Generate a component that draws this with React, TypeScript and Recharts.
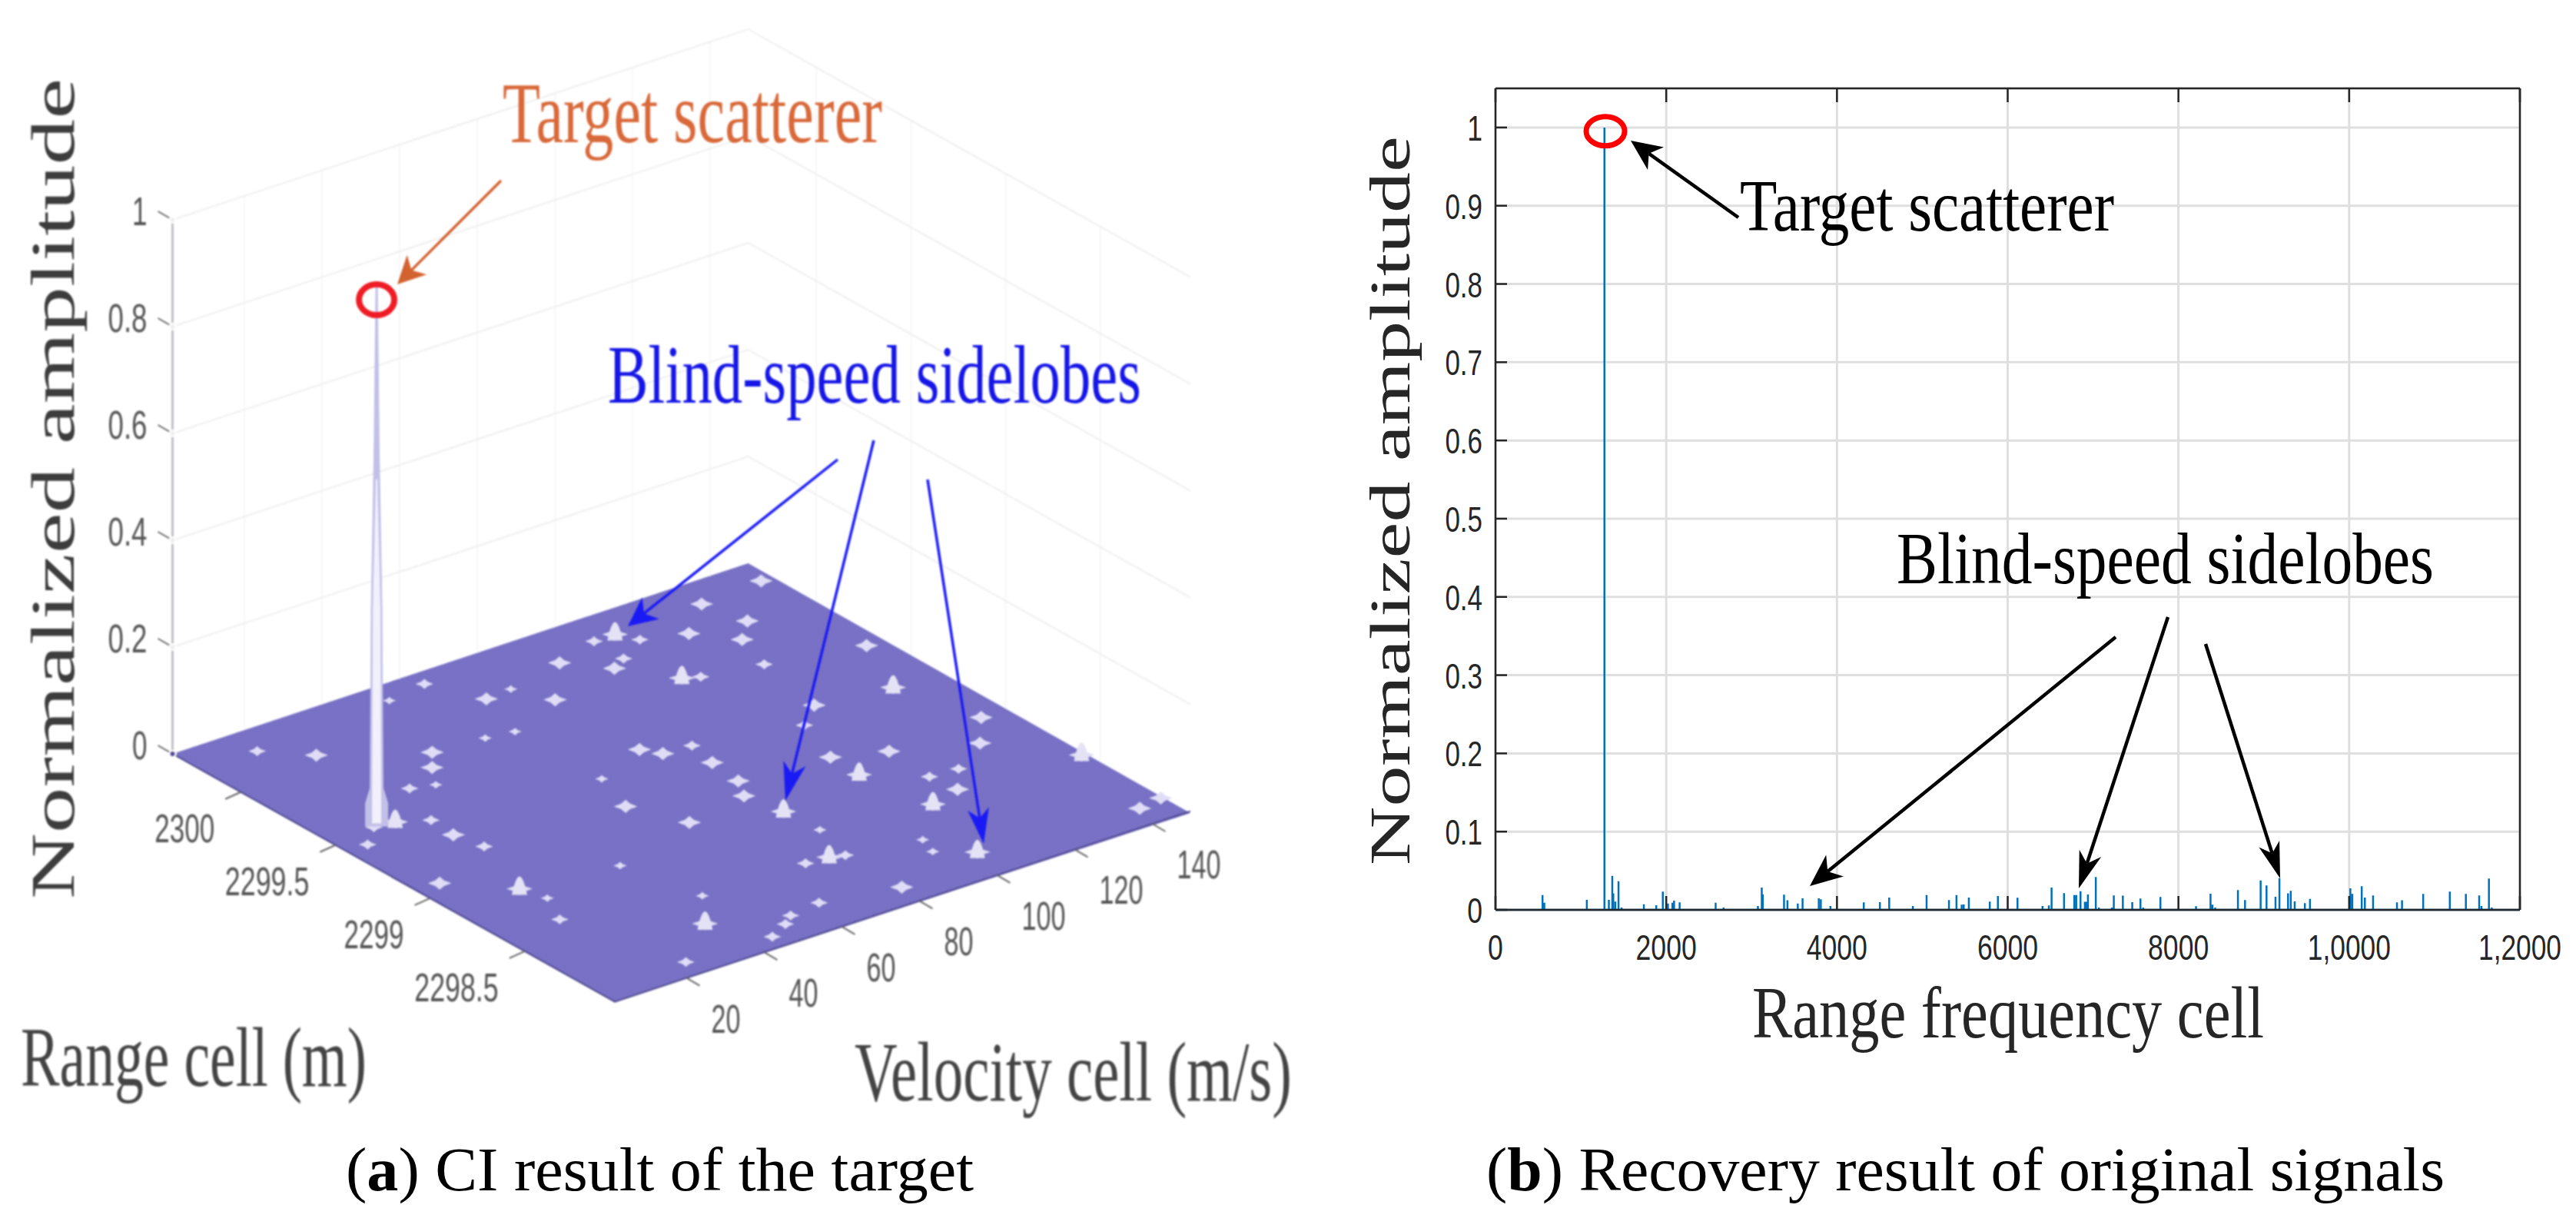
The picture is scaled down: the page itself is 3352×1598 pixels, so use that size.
import React from "react";
import { Area, CartesianGrid, ComposedChart, Line, Scatter, XAxis, YAxis } from "recharts";

// ---------- panel (a): surface ----------
const zTicks = [0, 0.2, 0.4, 0.6, 0.8, 1];
const velocityTicks = [20, 40, 60, 80, 100, 120, 140];
const rangeTicks = [2300, 2299.5, 2299, 2298.5];

const targetVelocity = 13.6;
const targetRange = 2299.53;
const targetAmp = 1.01;

const bumpVelocity = [
  146.8, 130.5, 133, 119.9, 126.8, 107.7, 102.3, 110.2, 102.1, 97.8, 90.5, 123.2, 105.9, 109.3, 68.2, 79.1, 75, 63.4,
  56.7, 119.5, 112.1, 78.4, 81, 88, 86.4, 63.8, 85.3, 81.9, 107.1, 106.7, 83.8, 59.7, 65.4, 25.2, 41.7, 78, 81.2, 72.4,
  18.7, 20.5, 16.4, 38.7, 63.2, 54.9, 51.6, 45.8, 46.3, 145.2, 137.4, 143, 135.4, 118.3, 124.5, 117.5, 118.4, 110.1,
  103.5, 81.1, 142.4, 148.8, 98.2, 96.4, 84.4, 24.4, 16, 44, 39.6, 35.2, 29.9, 24.2, 17.9, 12.9, 6.9, 23.6, 7.4, 62.5,
  52, 24.5, 148.4,
];
const bumpRange = [
  2300.23, 2300.21, 2300.02, 2300.06, 2299.92, 2300.2, 2300.2, 2300.12, 2300.04, 2300, 2300.14, 2299.73, 2299.81,
  2299.78, 2300.07, 2299.93, 2300.08, 2299.82, 2299.84, 2299.39, 2299.29, 2299.47, 2299.4, 2299.39, 2299.25, 2299.37,
  2299.09, 2298.99, 2299.05, 2298.89, 2298.82, 2299.16, 2298.94, 2299.2, 2298.82, 2298.46, 2298.44, 2298.47, 2298.88,
  2298.77, 2298.62, 2298.31, 2298.21, 2298.19, 2298.15, 2298.1, 2298.48, 2299.64, 2299.34, 2298.99, 2298.84, 2298.97,
  2298.73, 2298.74, 2298.61, 2298.57, 2298.2, 2298.14, 2298.14, 2298.16, 2298.38, 2298.29, 2298.64, 2300.07, 2300.21,
  2299.86, 2299.77, 2299.66, 2299.69, 2299.46, 2299.52, 2299.53, 2299.44, 2299.33, 2299.07, 2300.28, 2300.25, 2298.12,
  2298.57,
];
const bumpAmp = [
  0.022, 0.022, 0.022, 0.022, 0.022, 0.04, 0.014, 0.014, 0.014, 0.022, 0.022, 0.014, 0.04, 0.014, 0.022, 0.022, 0.008,
  0.008, 0.008, 0.022, 0.014, 0.022, 0.022, 0.014, 0.022, 0.008, 0.022, 0.022, 0.022, 0.04, 0.04, 0.022, 0.022, 0.014,
  0.008, 0.04, 0.014, 0.014, 0.04, 0.008, 0.014, 0.04, 0.014, 0.014, 0.014, 0.014, 0.008, 0.022, 0.04, 0.022, 0.022,
  0.022, 0.014, 0.014, 0.022, 0.04, 0.04, 0.022, 0.022, 0.022, 0.008, 0.008, 0.008, 0.022, 0.014, 0.022, 0.022, 0.008,
  0.014, 0.014, 0.04, 0.014, 0.014, 0.022, 0.022, 0.014, 0.008, 0.014, 0.04,
];

// ---------- panel (b): stems ----------
const cellTicks = [0, 2000, 4000, 6000, 8000, 10000, 12000];
const cellTickLabels = ["0", "2000", "4000", "6000", "8000", "1,0000", "1,2000"];
const ampTicks = [0, 0.1, 0.2, 0.3, 0.4, 0.5, 0.6, 0.7, 0.8, 0.9, 1];

const stemCells = [
  551, 572, 1070, 1276, 1328, 1368, 1380, 1404, 1441, 1477, 1738, 1883, 1960, 2020, 2072, 2092, 2157, 2579, 2672, 3074,
  3119, 3131, 3380, 3420, 3541, 3597, 3787, 3811, 3923, 4314, 4503, 4612, 4889, 5050, 5312, 5400, 5461, 5485, 5545,
  5790, 5885, 6115, 6408, 6482, 6514, 6660, 6780, 6803, 6853, 6904, 6922, 6940, 7032, 7069, 7220, 7243, 7349, 7459,
  7555, 7587, 7789, 8206, 8376, 8399, 8431, 8697, 8780, 8963, 9032, 9137, 9183, 9284, 9316, 9362, 9481, 9541, 10014,
  10037, 10147, 10184, 10280, 10560, 10619, 10867, 11179, 11367, 11523, 11550, 11637, 11670,
];
const stemAmps = [
  0.0188, 0.009, 0.0128, 1, 0.0128, 0.0434, 0.021, 0.0105, 0.0365, 0.003, 0.007, 0.006, 0.0234, 0.008, 0.009, 0.0118,
  0.0095, 0.009, 0.003, 0.005, 0.0286, 0.0197, 0.0194, 0.0122, 0.008, 0.0148, 0.0148, 0.0135, 0.005, 0.0095, 0.0099,
  0.0158, 0.005, 0.0188, 0.0125, 0.0188, 0.0066, 0.0069, 0.0158, 0.0105, 0.0178, 0.0155, 0.005, 0.0056, 0.0286, 0.0214,
  0.0188, 0.0188, 0.0237, 0.0102, 0.0102, 0.0197, 0.0421, 0.003, 0.003, 0.0184, 0.0181, 0.0099, 0.0145, 0.003, 0.0164,
  0.0046, 0.0207, 0.0066, 0.003, 0.0253, 0.0125, 0.0375, 0.0312, 0.0168, 0.0405, 0.021, 0.0243, 0.0109, 0.0086, 0.0141,
  0.0276, 0.0204, 0.0303, 0.0158, 0.0184, 0.0095, 0.0122, 0.0204, 0.0234, 0.0204, 0.0184, 0.005, 0.0401, 0.003,
];

const stemTrace = [
  { cell: 0, amp: 0 },
  ...stemCells.flatMap((cell, i) => [
    { cell, amp: 0 },
    { cell, amp: stemAmps[i] },
    { cell, amp: 0 },
  ]),
  { cell: 12000, amp: 0 },
];

// projection of the 3-D view of panel (a) onto the page
const V_MIN = 1.5;
const V_MAX = 149.8;
const R_MAX = 2300.36;
const R_MIN = 2298.024;
const CORNER_L = { x: 224.5, y: 981 };
const CORNER_T = { x: 973.5, y: 733 };
const CORNER_B = { x: 800, y: 1303.6 };
const CORNER_R = { x: 1549, y: 1058 };
const Z_SPAN = 695;

function project(v: number, r: number, z = 0) {
  const u = (v - V_MIN) / (V_MAX - V_MIN);
  const w = (R_MAX - r) / (R_MAX - R_MIN);
  return {
    px: CORNER_L.x + u * (CORNER_T.x - CORNER_L.x) + w * (CORNER_B.x - CORNER_L.x),
    py: CORNER_L.y + u * (CORNER_T.y - CORNER_L.y) + w * (CORNER_B.y - CORNER_L.y) - z * Z_SPAN,
  };
}

const lerpY = (a: any, b: any, x: number) => a.y + ((x - a.x) / (b.x - a.x)) * (b.y - a.y);

const floorBand = [
  { px: CORNER_L.x, band: [CORNER_L.y, CORNER_L.y] },
  { px: CORNER_B.x, band: [CORNER_B.y, lerpY(CORNER_L, CORNER_T, CORNER_B.x)] },
  { px: CORNER_T.x, band: [lerpY(CORNER_B, CORNER_R, CORNER_T.x), CORNER_T.y] },
  { px: CORNER_R.x, band: [CORNER_R.y, CORNER_R.y] },
];

const bumps = bumpVelocity.map((v, i) => ({ ...project(v, bumpRange[i]), amp: bumpAmp[i] }));

const wallLines = [
  ...zTicks.slice(1).map((z) => [project(V_MIN, R_MAX, z), project(V_MAX, R_MAX, z), project(V_MAX, R_MIN, z)]),
];
const wallVerticals = [
  ...velocityTicks.map((v) => [project(v, R_MAX, 0), project(v, R_MAX, 1)]),
  ...rangeTicks.map((r) => [project(V_MAX, r, 0), project(V_MAX, r, 1)]),
];

const SERIF = "'Liberation Serif', serif";
const SANS = "'Liberation Sans', Arial, sans-serif";

function tickWidth(label: string, digit: number, sep: number) {
  return [...label].reduce((sum, ch) => sum + (ch === "." || ch === "," ? sep : digit), 0);
}

function Bump(props: any) {
  const { cx, cy, payload } = props;
  const amp = payload.amp;
  const big = amp >= 0.04;
  const s = big ? 17 : 5 + amp * 470;
  const h = s * (big ? 0.5 : 0.56);
  const pts = [
    [-s, 0],
    [-0.38 * s, -0.42 * h],
    [0, -h],
    [0.38 * s, -0.42 * h],
    [s, 0],
    [0.38 * s, 0.42 * h],
    [0, h],
    [-0.38 * s, 0.42 * h],
  ];
  return (
    <g>
      <polygon points={pts.map(([x, y]) => `${cx + x},${cy + y}`).join(" ")} fill="#dfddf5" />
      {big && (
        <path
          d={`M${cx - 10} ${cy + 8} Q${cx - 5} ${cy - 16} ${cx} ${cy - 16} Q${cx + 5} ${cy - 16} ${cx + 10} ${cy + 8} Z`}
          fill="#e4e2f5"
        />
      )}
    </g>
  );
}

// the tall target peak: a taper from the tip (where cy sits) down to the floor
function TargetPeak(props: any) {
  const { cx, cy } = props;
  const base = cy + targetAmp * Z_SPAN;
  return (
    <g>
      <polygon
        points={[
          [cx - 1.5, cy],
          [cx + 1.5, cy],
          [cx + 4, cy + 220],
          [cx + 7.5, cy + 420],
          [cx + 9, base - 50],
          [cx + 15, base - 30],
          [cx + 15, base],
          [cx - 15, base],
          [cx - 15, base - 30],
          [cx - 9, base - 50],
          [cx - 7.5, cy + 420],
          [cx - 4, cy + 220],
        ]
          .map((p) => p.join(","))
          .join(" ")}
        fill="#c3c0e8"
      />
      <polygon
        points={[
          [cx - 1, cy + 250],
          [cx + 1, cy + 250],
          [cx + 5, cy + 420],
          [cx + 6, base - 4],
          [cx - 6, base - 4],
          [cx - 5, cy + 420],
        ]
          .map((p) => p.join(","))
          .join(" ")}
        fill="#f1f0fb"
      />
    </g>
  );
}

function axisTickShape(tx: number, ty: number, lx: number, ly: number, anchor: string, digit: number) {
  return function AxisTick(props: any) {
    const { cx, cy, payload } = props;
    return (
      <g>
        <line x1={cx} y1={cy} x2={cx + tx} y2={cy + ty} stroke="#666" strokeWidth={2} />
        <text
          x={cx + lx}
          y={cy + ly}
          textAnchor={anchor as any}
          fontFamily={SANS}
          fontSize={51}
          fill="#555"
          textLength={tickWidth(payload.label, digit, 12)}
          lengthAdjust="spacingAndGlyphs"
        >
          {payload.label}
        </text>
      </g>
    );
  };
}

function Ring(props: any) {
  return <ellipse cx={props.cx} cy={props.cy} rx={23} ry={20} fill="none" stroke="#ee1c25" strokeWidth={8} />;
}

function SurfacePanel() {
  const zTickData = zTicks.map((z) => ({ ...project(V_MIN, R_MAX, z), label: String(z) }));
  const vTickData = velocityTicks.map((v) => ({ ...project(v, R_MIN), label: String(v) }));
  const rTickData = rangeTicks.map((r) => ({ ...project(V_MIN, r), label: String(r) }));
  const common = { dot: false, isAnimationActive: false, legendType: "none" as const, dataKey: "py" };
  const tgt = (z: number) => project(targetVelocity, targetRange, z);
  return (
    <ComposedChart width={1720} height={1440} margin={{ top: 0, right: 0, bottom: 0, left: 0 }} data={floorBand}>
      <XAxis hide type="number" dataKey="px" domain={[0, 1720]} />
      <YAxis hide type="number" dataKey="py" domain={[0, 1440]} reversed />
      {wallVerticals.map((pts, i) => (
        <Line key={`wv${i}`} {...common} data={pts} stroke="#f7f7f7" strokeWidth={2} />
      ))}
      {wallLines.map((pts, i) => (
        <Line key={`wl${i}`} {...common} data={pts} stroke="#efefef" strokeWidth={2} />
      ))}
      <Line {...common} data={[project(V_MIN, R_MAX, 0), project(V_MIN, R_MAX, 1)]} stroke="#b4b4bb" strokeWidth={2.5} />
      <Area dataKey="band" data={floorBand} type="linear" fill="url(#mesh)" fillOpacity={1} stroke="none" isAnimationActive={false} dot={false} />
      <Line
        {...common}
        data={[project(V_MIN, R_MAX), project(V_MIN, R_MIN), project(V_MAX, R_MIN)]}
        stroke="#4f4990"
        strokeWidth={2}
      />
      <Scatter data={bumps} shape={Bump} isAnimationActive={false} />
      <Scatter data={[tgt(targetAmp)]} shape={TargetPeak} isAnimationActive={false} />
      <Scatter data={[tgt(0.986)]} shape={Ring} isAnimationActive={false} />
      <Scatter data={zTickData} shape={axisTickShape(-19, -11, -33, 7, "end", 19.5)} isAnimationActive={false} />
      <Scatter data={rTickData} shape={axisTickShape(-20, 9, -34, 65, "end", 19.5)} isAnimationActive={false} />
      <Scatter data={vTickData} shape={axisTickShape(17, 10, 32, 71, "start", 19)} isAnimationActive={false} />
    </ComposedChart>
  );
}

function bottomTick(props: any) {
  const { x, y, payload } = props;
  const label = cellTickLabels[cellTicks.indexOf(payload.value)];
  return (
    <g>
      <line x1={x} y1={y} x2={x} y2={y - 18} stroke="#262626" strokeWidth={2.5} />
      <text
        x={x}
        y={y + 65}
        textAnchor="middle"
        fontFamily={SANS}
        fontSize={46}
        fill="#262626"
        textLength={tickWidth(label, 19.8, 9)}
        lengthAdjust="spacingAndGlyphs"
      >
        {label}
      </text>
    </g>
  );
}

function topTick(props: any) {
  const { x, y } = props;
  return <line x1={x} y1={y} x2={x} y2={y + 18} stroke="#262626" strokeWidth={2.5} />;
}

function leftTick(props: any) {
  const { x, y, payload } = props;
  const label = String(payload.value);
  return (
    <g>
      <line x1={x} y1={y} x2={x + 15} y2={y} stroke="#262626" strokeWidth={2.5} />
      <text
        x={x - 17}
        y={y + 17}
        textAnchor="end"
        fontFamily={SANS}
        fontSize={46}
        fill="#262626"
        textLength={tickWidth(label, 19.8, 9)}
        lengthAdjust="spacingAndGlyphs"
      >
        {label}
      </text>
    </g>
  );
}

function rightTick(props: any) {
  const { x, y } = props;
  return <line x1={x} y1={y} x2={x - 15} y2={y} stroke="#262626" strokeWidth={2.5} />;
}

function StemPanel() {
  const axisLine = { stroke: "#262626", strokeWidth: 2.5 };
  return (
    <ComposedChart width={1560} height={1240} margin={{ top: 45, right: 51, bottom: 56, left: 106 }} data={stemTrace}>
      <CartesianGrid stroke="#dfdfdf" strokeWidth={3} />
      <XAxis
        type="number"
        dataKey="cell"
        domain={[0, 12000]}
        ticks={cellTicks}
        interval={0}
        height={60}
        axisLine={axisLine}
        tickLine={false}
        tickSize={0}
        tickMargin={0}
        tick={bottomTick}
      />
      <XAxis
        xAxisId="top"
        orientation="top"
        type="number"
        dataKey="cell"
        domain={[0, 12000]}
        ticks={cellTicks}
        interval={0}
        height={10}
        axisLine={axisLine}
        tickLine={false}
        tickSize={0}
        tickMargin={0}
        tick={topTick}
      />
      <YAxis
        type="number"
        domain={[0, 1.05]}
        ticks={ampTicks}
        interval={0}
        width={60}
        axisLine={axisLine}
        tickLine={false}
        tickSize={0}
        tickMargin={0}
        tick={leftTick}
      />
      <YAxis
        yAxisId="right"
        orientation="right"
        type="number"
        domain={[0, 1.05]}
        ticks={ampTicks}
        interval={0}
        width={10}
        axisLine={axisLine}
        tickLine={false}
        tickSize={0}
        tickMargin={0}
        tick={rightTick}
      />
      <Line type="linear" dataKey="amp" stroke="#0072bd" strokeWidth={2.5} dot={false} isAnimationActive={false} />
    </ComposedChart>
  );
}

function Arrow({ tail, tip, head, half, notch, color, width }: any) {
  const dx = tip[0] - tail[0];
  const dy = tip[1] - tail[1];
  const len = Math.hypot(dx, dy);
  const ux = dx / len;
  const uy = dy / len;
  const at = (along: number, side: number) => `${tip[0] - ux * along - uy * side},${tip[1] - uy * along + ux * side}`;
  return (
    <g>
      <line
        x1={tail[0]}
        y1={tail[1]}
        x2={tip[0] - ux * notch}
        y2={tip[1] - uy * notch}
        stroke={color}
        strokeWidth={width}
      />
      <polygon points={[at(0, 0), at(head, half), at(notch, 0), at(head, -half)].join(" ")} fill={color} />
    </g>
  );
}

function Label({ x, y, w, size, fill, rotate, weight, children }: any) {
  return (
    <text
      x={x}
      y={y}
      fontFamily={SERIF}
      fontSize={size}
      fill={fill}
      fontWeight={weight}
      textLength={w}
      lengthAdjust="spacingAndGlyphs"
      transform={rotate ? `rotate(-90 ${x} ${y})` : undefined}
    >
      {children}
    </text>
  );
}

const overlay: React.CSSProperties = { position: "absolute", left: 0, top: 0, pointerEvents: "none" };

export default function App() {
  return (
    <div style={{ position: "absolute", left: 0, top: 0, width: 3352, height: 1598, background: "#fff", overflow: "hidden" }}>
      <svg width={0} height={0} style={{ position: "absolute" }}>
        <defs>
          <pattern id="mesh" width={6} height={4} patternUnits="userSpaceOnUse">
            <rect width={6} height={4} fill="#817ace" />
            <path d="M0 4L6 0M0 0L6 4" stroke="#5d56a8" strokeWidth={0.8} strokeOpacity={0.7} />
          </pattern>
        </defs>
      </svg>

      <div style={{ position: "absolute", left: 0, top: 0, filter: "blur(1px)" }}>
        <SurfacePanel />
        <svg width={1760} height={1490} style={overlay}>
          <Label x={96} y={1170} w={1068} size={80} fill="#3d3d3d" rotate>
            Normalized amplitude
          </Label>
          <Label x={654} y={185} w={494} size={112} fill="#d8693a">
            Target scatterer
          </Label>
          <Arrow tail={[652, 235]} tip={[517, 370]} head={36} half={18} notch={26} color="#d2622f" width={3.5} />
          <Label x={791} y={524} w={694} size={108} fill="#1616e6">
            Blind-speed sidelobes
          </Label>
          <Arrow tail={[1090, 598]} tip={[817, 815]} head={38} half={18} notch={27} color="#1a1af5" width={3.5} />
          <Arrow tail={[1137, 573]} tip={[1022, 1042]} head={50} half={15} notch={36} color="#1a1af5" width={3.5} />
          <Arrow tail={[1207, 624]} tip={[1280, 1098]} head={46} half={14} notch={34} color="#1a1af5" width={3.5} />
          <Label x={27} y={1413} w={450} size={110} fill="#444">
            Range cell (m)
          </Label>
          <Label x={1112} y={1432} w={569} size={110} fill="#444">
            Velocity cell (m/s)
          </Label>
        </svg>
      </div>

      <div style={{ position: "absolute", left: 1780, top: 60 }}>
        <StemPanel />
      </div>

      <svg width={3352} height={1598} style={overlay}>
        <Label x={1833.5} y={1126} w={949} size={75} fill="#262626" rotate>
          Normalized amplitude
        </Label>
        <ellipse cx={2089} cy={170.7} rx={25} ry={19} fill="none" stroke="#ff0000" strokeWidth={7} />
        <Label x={2264} y={300} w={487} size={96} fill="#000">
          Target scatterer
        </Label>
        <Arrow tail={[2262, 283]} tip={[2122, 183]} head={40} half={18} notch={29} color="#000" width={4.5} />
        <Label x={2468} y={759} w={699} size={95} fill="#000">
          Blind-speed sidelobes
        </Label>
        <Arrow tail={[2753, 829]} tip={[2355, 1153]} head={42} half={18} notch={30} color="#000" width={4.5} />
        <Arrow tail={[2821, 803]} tip={[2705, 1156]} head={48} half={15} notch={34} color="#000" width={4.5} />
        <Arrow tail={[2870, 838]} tip={[2967, 1143]} head={47} half={14} notch={34} color="#000" width={4.5} />
        <Label x={2280} y={1350} w={666} size={96} fill="#262626">
          Range frequency cell
        </Label>
        <Label x={450} y={1549} w={817} size={80} fill="#000">
          (<tspan fontWeight={700}>a</tspan>) CI result of the target
        </Label>
        <Label x={1934} y={1549} w={1247} size={80} fill="#000">
          (<tspan fontWeight={700}>b</tspan>) Recovery result of original signals
        </Label>
      </svg>
    </div>
  );
}
